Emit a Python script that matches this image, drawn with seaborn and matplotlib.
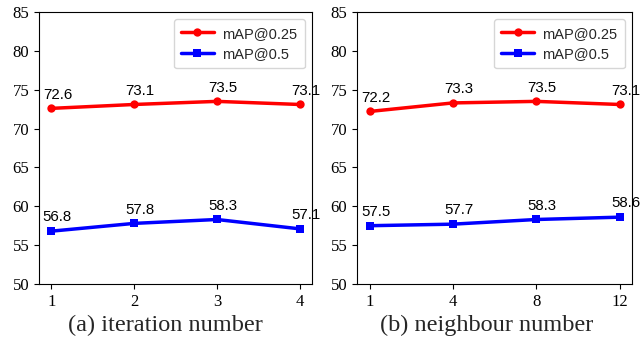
import matplotlib
matplotlib.use("Agg")
import matplotlib.pyplot as plt
import seaborn as sns
import numpy as np
import pandas as pd

iter_labels = ["1", "2", "3", "4"]
iter_map25 = [72.6, 73.1, 73.5, 73.1]
iter_map50 = [56.8, 57.8, 58.3, 57.1]

nb_labels = ["1", "4", "8", "12"]
nb_map25 = [72.2, 73.3, 73.5, 73.1]
nb_map50 = [57.5, 57.7, 58.3, 58.6]

captions = ["(a) iteration number", "(b) neighbour number"]

sns.set_style("ticks")
plt.rcParams["font.family"] = ["Liberation Sans", "DejaVu Sans"]

fig = plt.figure(figsize=(6.44, 3.37), dpi=100)
ax1 = fig.add_axes([39/644, 1-284/337, 273/644, 272/337])
ax2 = fig.add_axes([357/644, 1-284/337, 275/644, 272/337])

panels = [(ax1, iter_labels, iter_map25, iter_map50, captions[0], 165/644),
          (ax2, nb_labels, nb_map25, nb_map50, captions[1], 487/644)]

for ax, labels, m25, m50, cap, cx in panels:
    pos = np.arange(len(labels))
    df = pd.DataFrame({"x": np.concatenate([pos, pos]),
                       "y": m25 + m50,
                       "s": ["mAP@0.25"] * len(pos) + ["mAP@0.5"] * len(pos)})
    sns.lineplot(data=df, x="x", y="y", hue="s", style="s",
                 markers={"mAP@0.25": "o", "mAP@0.5": "s"}, dashes=False,
                 palette={"mAP@0.25": "#ff0000", "mAP@0.5": "#0000ff"},
                 linewidth=2.5, markersize=6, markeredgewidth=0, ax=ax)
    for series in (m25, m50):
        for xi, yi in zip(pos, series):
            ax.annotate(f"{yi:.1f}", (xi, yi), xytext=(4.3, 4.8), textcoords="offset points",
                        ha="center", va="bottom", fontsize=10.8, color="black")
    ax.set_ylim(50, 85)
    ax.set_yticks(range(50, 86, 5))
    ax.set_xticks(pos)
    ax.set_xticklabels(labels)
    ax.set_xlim(-0.15, len(pos) - 1 + 0.15)
    ax.set_xlabel("")
    ax.set_ylabel("")
    fig.text(cx, 1 - 325/337, cap, family="Liberation Serif", fontsize=17.5,
             ha="center", va="center")
    for lab in ax.get_xticklabels() + ax.get_yticklabels():
        lab.set_family("Liberation Serif")
        lab.set_fontsize(12)
    for sp in ax.spines.values():
        sp.set_visible(True)
        sp.set_color("black")
        sp.set_linewidth(0.8)
    ax.tick_params(direction="out", length=3.5, width=0.8, colors="black")
    leg = ax.legend(loc="upper right", fontsize=10.5, frameon=True, handlelength=2.2,
                    handletextpad=0.6, borderpad=0.5, labelspacing=0.45)
    leg.get_frame().set_edgecolor("#cccccc")

fig.savefig("out.png", dpi=100)
